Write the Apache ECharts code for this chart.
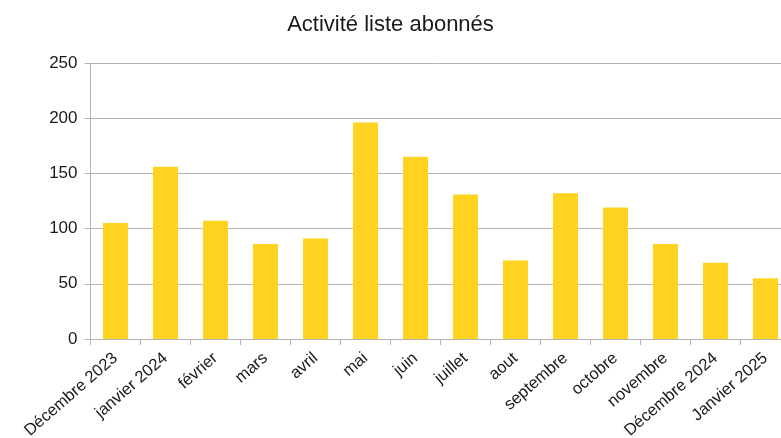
<!DOCTYPE html>
<html>
<head>
<meta charset="utf-8">
<script src="https://cdn.jsdelivr.net/npm/echarts@6/dist/echarts.min.js"></script>
<style>
  html, body { margin: 0; padding: 0; background: #fff; }
  #chart { width: 781px; height: 438px; }
</style>
</head>
<body>
<div id="chart"></div>
<script>
// données
var months = ['Décembre 2023', 'janvier 2024', 'février', 'mars', 'avril', 'mai', 'juin',
  'juillet', 'aout', 'septembre', 'octobre', 'novembre', 'Décembre 2024', 'Janvier 2025']
var activity = [105, 156, 107, 86, 91, 196, 165, 131, 71, 132, 119, 86, 69, 55]
var yTicks = [0, 50, 100, 150, 200, 250]

var axisGray = '#b3b3b3'
var textColor = '#1a1a1a'
var font = 'Liberation Sans'

var myChart = echarts.init(document.getElementById('chart'))
var option = {
  animation: false,
  title: {
    text: 'Activité liste abonnés',
    left: 'center',
    top: 9,
    textStyle: { fontSize: 22, fontWeight: 'normal', color: textColor, fontFamily: font }
  },
  // le graphique d'origine est coupé à droite : la zone dépasse le cadre
  grid: { left: 90.5, width: 700, top: 63, bottom: 99, outerBoundsMode: 'none', containLabel: false },
  xAxis: {
    type: 'category',
    data: months,
    axisLine: { lineStyle: { color: axisGray } },
    axisTick: { show: true, length: 6, lineStyle: { color: axisGray } },
    axisLabel: {
      interval: 0,
      rotate: 41,
      margin: 17,
      fontSize: 16.5,
      color: textColor,
      fontFamily: font
    }
  },
  yAxis: {
    type: 'value',
    min: yTicks[0],
    max: yTicks[yTicks.length - 1],
    interval: yTicks[1] - yTicks[0],
    axisLine: { show: true, lineStyle: { color: axisGray } },
    axisTick: { show: true, length: 6, lineStyle: { color: axisGray } },
    axisLabel: { fontSize: 17, color: textColor, fontFamily: font, margin: 13 },
    splitLine: { lineStyle: { color: axisGray } }
  },
  series: [{
    type: 'bar',
    data: activity,
    barCategoryGap: '50%',
    itemStyle: { color: '#ffd320' }
  }]
}
myChart.setOption(option)
</script>
</body>
</html>
